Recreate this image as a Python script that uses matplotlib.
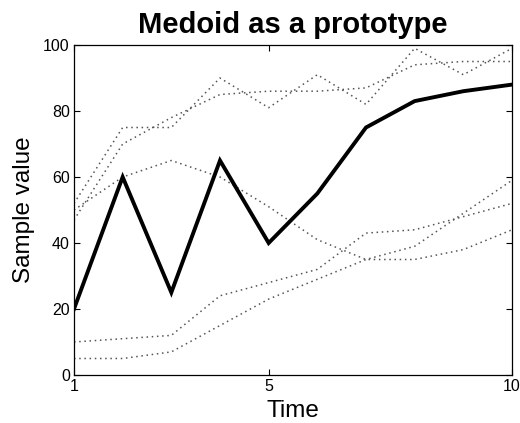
import matplotlib
matplotlib.use("Agg")
import matplotlib.pyplot as plt

plt.rcParams['font.family'] = ['Liberation Sans', 'DejaVu Sans']

# Time points
time = [1, 2, 3, 4, 5, 6, 7, 8, 9, 10]

# Medoid series (prototype)
medoid = [20, 60, 25, 65, 40, 55, 75, 83, 86, 88]

# Other members of the cluster
series_a = [52, 75, 75, 90, 81, 91, 82, 99, 91, 99]
series_b = [47, 70, 78, 85, 86, 86, 87, 94, 95, 95]
series_c = [50, 60, 65, 60, 51, 41, 35, 35, 38, 44]
series_d = [10, 11, 12, 24, 28, 32, 43, 44, 48, 52]
series_e = [5, 5, 7, 15, 23, 29, 35, 39, 49, 59]

others = [series_a, series_b, series_c, series_d, series_e]

x_ticks = [1, 5, 10]
y_ticks = [0, 20, 40, 60, 80, 100]

fig = plt.figure(figsize=(5.2, 4.23), dpi=100)
ax = fig.add_axes([0.1423, 0.1135, 0.8423, 0.7801])

for s in others:
    ax.plot(time, s, linestyle=(0, (1, 2.4)), color='#555555', linewidth=1.1)

ax.plot(time, medoid, color='black', linewidth=2.8, solid_joinstyle='miter')

ax.set_xlim(1, 10)
ax.set_ylim(0, 100)
ax.set_xticks(x_ticks)
ax.set_yticks(y_ticks)
ax.tick_params(direction='in', length=4, width=0.8, top=True, right=True,
               labelsize=11.5, pad=3)
for sp in ax.spines.values():
    sp.set_linewidth(0.9)

ax.set_title('Medoid as a prototype', fontsize=21, fontweight='bold', pad=9)
ax.set_xlabel('Time', fontsize=17.5, labelpad=4)
ax.set_ylabel('Sample value', fontsize=17.5, labelpad=6)

fig.savefig('out.png', dpi=100)
